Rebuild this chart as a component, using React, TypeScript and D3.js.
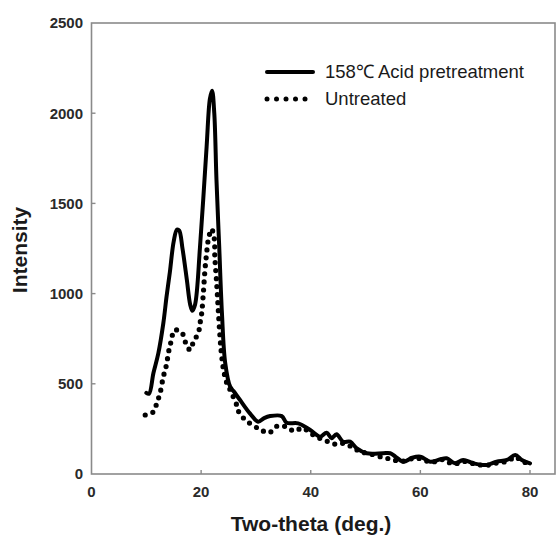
import React from "react";
import * as d3 from "d3";

const acidX = [10.0, 10.5, 11.3, 12.2, 13.1, 13.7, 14.3, 15.0, 15.6, 16.0, 16.6, 17.4, 18.0, 18.4, 18.9, 19.8, 21.0, 21.6, 22.0, 22.4, 22.8, 23.3, 23.8, 24.4, 25.3, 25.9, 27.1, 28.9, 30.4, 31.5, 32.6, 34.7, 35.6, 37.7, 39.9, 41.7, 42.9, 43.8, 44.7, 45.9, 47.2, 48.4, 50.2, 53.2, 54.5, 55.5, 56.9, 58.5, 60.0, 61.8, 63.5, 64.8, 66.3, 67.8, 69.7, 72.1, 73.9, 75.8, 77.3, 78.5, 80.0];
const acidY = [450, 445, 560, 670, 835, 985, 1120, 1290, 1355, 1350, 1250, 1075, 940, 905, 940, 1260, 1814, 2080, 2125, 2000, 1630, 1260, 890, 614, 484, 460, 410, 336, 290, 310, 321, 321, 284, 281, 244, 207, 229, 198, 220, 179, 179, 142, 115, 115, 115, 95, 68, 90, 96, 68, 80, 87, 59, 78, 59, 50, 68, 78, 105, 78, 59];

const untreatedX = [9.8, 11.3, 11.9, 12.5, 13.1, 13.6, 14.2, 14.6, 15.1, 16.5, 17.1, 18.0, 18.6, 19.5, 19.8, 20.1, 20.4, 20.7, 21.0, 21.3, 21.9, 22.4, 22.5, 22.8, 23.1, 23.4, 23.7, 24.1, 24.7, 25.3, 26.5, 27.0, 28.5, 30.7, 32.4, 33.9, 35.5, 37.0, 38.5, 40.0, 41.5, 43.2, 44.7, 46.0, 47.5, 49.0, 51.0, 53.2, 54.8, 56.5, 58.5, 60.0, 62.0, 64.0, 66.0, 68.0, 70.0, 72.0, 74.0, 76.0, 77.3, 78.5, 80.0];
const untreatedY = [327, 345, 392, 447, 539, 595, 697, 743, 798, 783, 733, 687, 733, 783, 835, 890, 1001, 1131, 1223, 1297, 1358, 1306, 1204, 1075, 927, 780, 669, 576, 503, 466, 382, 336, 290, 248, 229, 266, 262, 238, 255, 225, 200, 179, 164, 170, 150, 125, 110, 92, 81, 70, 85, 85, 65, 80, 55, 70, 55, 48, 62, 72, 95, 72, 55];

const xTicks = [0, 20, 40, 60, 80];
const yTicks = [0, 500, 1000, 1500, 2000, 2500];

const legendLabels = ["158\u2103 Acid pretreatment", "Untreated"];
const xTitle = "Two-theta (deg.)";
const yTitle = "Intensity";

const W = 557;
const H = 537;
const left = 91.5;
const right = 555;
const top = 23;
const bottom = 474;

export default function App() {
  const x = d3.scaleLinear().domain([0, 80]).range([left, 530]);
  const y = d3.scaleLinear().domain([0, 2500]).range([bottom, top]);

  const line = d3
    .line<[number, number]>()
    .x((d) => x(d[0]))
    .y((d) => y(d[1]))
    .curve(d3.curveCatmullRom.alpha(0.5));

  const acid: [number, number][] = acidX.map((v, i) => [v, acidY[i]]);
  const untreated: [number, number][] = untreatedX.map((v, i) => [v, untreatedY[i]]);

  const frame = "#8a8a8a";
  const font = "'Liberation Sans', Arial, Helvetica, sans-serif";

  return (
    <svg
      width={W}
      height={H}
      style={{ position: "absolute", left: 0, top: 0, background: "#fff" }}
      fontFamily={font}
    >
      <rect x={0} y={0} width={W} height={H} fill="#fff" />
      <rect x={left} y={top} width={right - left} height={bottom - top} fill="none" stroke={frame} strokeWidth={1.6} />
      {yTicks.map((t) => (
        <g key={"y" + t}>
          {t > 0 && t < 2500 && (
            <line x1={left} x2={left + 4} y1={y(t)} y2={y(t)} stroke={frame} strokeWidth={1.4} />
          )}
          <text x={83} y={y(t)} dy="0.36em" textAnchor="end" fontSize={15} fontWeight="bold" fill="#2a2a2a">
            {t}
          </text>
        </g>
      ))}
      {xTicks.map((t) => (
        <g key={"x" + t}>
          {t > 0 && (
            <line x1={x(t)} x2={x(t)} y1={bottom} y2={bottom - 4} stroke={frame} strokeWidth={1.4} />
          )}
          <text x={x(t)} y={497} textAnchor="middle" fontSize={15} fontWeight="bold" fill="#2a2a2a">
            {t}
          </text>
        </g>
      ))}
      <text x={311} y={531} textAnchor="middle" fontSize={21} fontWeight="bold" fill="#1a1a1a">
        {xTitle}
      </text>
      <text
        transform={`translate(27,250) rotate(-90)`}
        textAnchor="middle"
        fontSize={21}
        fontWeight="bold"
        fill="#1a1a1a"
      >
        {yTitle}
      </text>
      <path d={line(untreated) || ""} fill="none" stroke="#000" strokeWidth={5.2} strokeLinecap="round" strokeDasharray="0 8" />
      <path d={line(acid) || ""} fill="none" stroke="#000" strokeWidth={4} strokeLinejoin="round" strokeLinecap="round" />
      <line x1={267} x2={313} y1={72} y2={72} stroke="#000" strokeWidth={4} strokeLinecap="round" />
      <text x={325} y={77.5} fontSize={18.5} fill="#1a1a1a">
        {legendLabels[0]}
      </text>
      {[0, 1, 2, 3, 4].map((i) => (
        <circle key={i} cx={267 + i * 9.5} cy={99} r={2.5} fill="#000" />
      ))}
      <text x={325} y={104.5} fontSize={18.5} fill="#1a1a1a">
        {legendLabels[1]}
      </text>
    </svg>
  );
}
